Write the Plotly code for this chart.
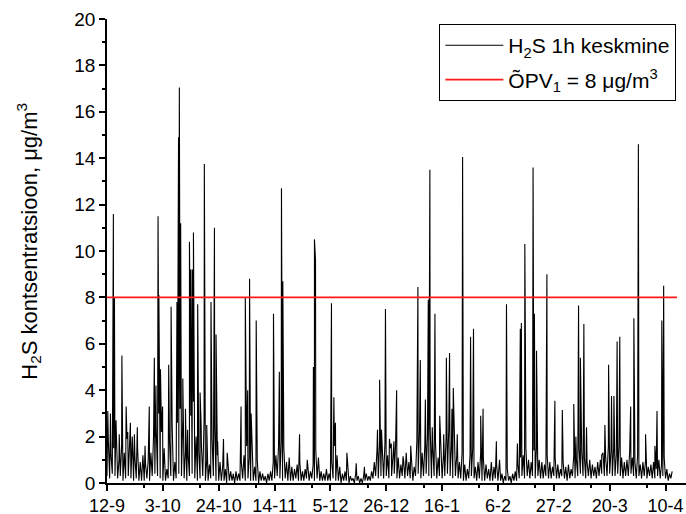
import pandas as pd
import plotly.graph_objects as go

start = pd.Timestamp("2010-09-12")

# daily baseline (low / high) of the hourly H2S series, day 0 = 12-9
base_lo = [
    0.3, 0.2, 0.4, 0.3, 0.2, 0.3, 0.1,
    0.2, 0.3, 0.2, 0.1, 0.2, 0.1, 0.1,
    0.1, 0.2, 0.1, 0.3, 0.4, 0.3, 0.2,
    0.1, 0.1, 0.2, 0.3, 0.1, 0.2, 0.4,
    0.3, 0.2, 0.1, 0.3, 0.4, 0.2, 0.1,
    0.2, 0.3, 0.1, 0.1, 0.2, 0.3, 0.1,
    0.1, 0.1, 0.1, 0.0, 0.1, 0.1, 0.0,
    0.1, 0.1, 0.2, 0.1, 0.2, 0.1, 0.1,
    0.1, 0.0, 0.1, 0.1, 0.0, 0.1, 0.1,
    0.2, 0.3, 0.2, 0.1, 0.2, 0.1, 0.1,
    0.1, 0.2, 0.1, 0.1, 0.1, 0.2, 0.1,
    0.2, 0.1, 0.2, 0.1, 0.1, 0.1, 0.1,
    0.1, 0.2, 0.1, 0.1, 0.0, 0.1, 0.1,
    0.0, 0.1, 0.0, 0.1, 0.0, 0.0, 0.1,
    0.1, 0.1, 0.2, 0.3, 0.2, 0.3, 0.2,
    0.3, 0.2, 0.3, 0.4, 0.2, 0.2, 0.3,
    0.2, 0.3, 0.2, 0.1, 0.3, 0.4, 0.2,
    0.3, 0.4, 0.3, 0.2, 0.3, 0.2, 0.3,
    0.2, 0.3, 0.4, 0.3, 0.2, 0.3, 0.2,
    0.2, 0.1, 0.1, 0.2, 0.3, 0.2, 0.1,
    0.2, 0.1, 0.1, 0.2, 0.1, 0.1, 0.2,
    0.1, 0.1, 0.0, 0.1, 0.1, 0.0, 0.1,
    0.1, 0.2, 0.3, 0.2, 0.3, 0.2, 0.3,
    0.2, 0.3, 0.2, 0.2, 0.3, 0.2, 0.2,
    0.3, 0.2, 0.2, 0.3, 0.2, 0.1, 0.2,
    0.3, 0.2, 0.3, 0.4, 0.3, 0.2, 0.3,
    0.2, 0.3, 0.2, 0.3, 0.4, 0.3, 0.3,
    0.4, 0.3, 0.3, 0.4, 0.3, 0.2, 0.3,
    0.3, 0.4, 0.3, 0.2, 0.3, 0.2, 0.3,
    0.2, 0.3, 0.2, 0.2, 0.3, 0.2, 0.3,
    0.2, 0.1, 0.2,
]
base_hi = [
    1.8, 1.2, 1.5, 2.2, 1.0, 1.6, 1.3,
    1.9, 1.4, 2.0, 1.1, 1.5, 0.9, 1.2,
    0.8, 1.0, 1.3, 2.0, 2.4, 3.0, 2.2,
    1.5, 0.6, 1.8, 2.5, 0.9, 2.6, 3.2,
    2.8, 1.4, 1.2, 2.9, 3.5, 2.0, 1.3,
    1.6, 2.7, 1.0, 0.8, 1.9, 2.4, 1.2,
    0.9, 0.7, 0.6, 0.8, 0.5, 0.4, 0.5,
    0.4, 0.9, 1.2, 1.6, 1.1, 1.4, 0.7,
    1.0, 0.5, 0.4, 0.3, 0.4, 0.5, 0.9,
    1.2, 1.6, 1.8, 1.5, 0.9, 1.1, 0.7,
    0.6, 0.8, 0.9, 0.5, 0.6, 0.7, 0.5,
    0.8, 1.4, 1.1, 0.5, 0.4, 0.6, 0.4,
    0.9, 1.6, 1.2, 0.7, 0.4, 0.5, 0.6,
    0.3, 0.2, 0.4, 0.3, 0.2, 0.3, 0.4,
    0.3, 0.5, 0.9, 1.4, 1.8, 1.3, 1.7,
    1.2, 1.5, 1.0, 1.6, 1.1, 0.8, 1.0,
    1.2, 0.9, 1.0, 0.7, 1.8, 2.2, 1.3,
    1.6, 2.0, 2.4, 1.5, 1.8, 1.1, 1.7,
    1.2, 2.0, 2.3, 1.6, 1.9, 1.2, 0.9,
    1.3, 0.8, 0.6, 1.2, 1.5, 0.7, 0.9,
    1.3, 1.1, 0.8, 0.6, 0.9, 0.7, 0.8,
    0.7, 0.4, 0.3, 0.6, 0.3, 0.4, 0.5,
    0.8, 1.1, 1.2, 1.5, 1.0, 0.9, 1.4,
    1.6, 1.0, 0.9, 0.8, 1.2, 0.9, 0.7,
    1.1, 0.8, 0.6, 0.9, 0.7, 0.8, 0.6,
    1.2, 1.0, 1.5, 1.3, 1.1, 0.9, 1.0,
    0.8, 0.7, 0.9, 1.0, 1.3, 1.1, 1.6,
    1.4, 1.5, 1.2, 1.6, 1.1, 0.9, 1.0,
    1.3, 1.1, 0.9, 1.2, 0.8, 0.9, 1.0,
    0.7, 0.8, 0.9, 0.6, 1.0, 0.8, 1.1,
    0.6, 0.4, 0.5,
]

# individual hourly peaks: time (days after 12-9) and value (ug/m3)
spike_days = [
    0.3, 1.3, 2.4, 2.8, 3.4, 4.6, 5.6, 7.2, 7.8, 8.8,
    10.3, 11.4, 14.3, 15.9, 17.8, 18.4, 19.2, 19.5, 20.1, 20.9,
    23.2, 24.1, 26.3, 26.9, 27.2, 27.7, 28.5, 29.5, 30.3, 31.0,
    31.5, 32.1, 32.5, 34.1, 35.0, 35.4, 36.6, 37.5, 39.1, 40.4,
    41.0, 41.6, 43.8, 45.2, 50.4, 52.0, 52.9, 53.6, 54.2, 56.1,
    62.6, 64.8, 65.6, 66.1, 68.3, 72.4, 75.3, 77.6, 78.0, 78.4,
    84.4, 85.3, 85.9, 86.6, 90.2, 93.7, 96.8, 101.7, 102.5, 103.2,
    104.7, 106.2, 106.9, 107.9, 108.9, 111.3, 112.5, 114.2, 116.9, 117.8,
    119.7, 120.8, 121.4, 122.3, 123.3, 125.1, 126.6, 127.6, 128.8, 129.7,
    130.2, 131.7, 133.7, 136.7, 137.8, 140.5, 141.4, 146.4, 147.6, 150.2,
    154.3, 155.4, 155.8, 157.1, 157.3, 160.2, 160.7, 161.5, 165.4, 168.4,
    171.2, 175.5, 176.3, 177.3, 178.0, 179.3, 180.3, 186.0, 187.2, 188.6,
    189.7, 190.6, 191.8, 192.8, 196.9, 198.1, 199.8, 202.5, 206.0, 206.8,
    208.6, 209.3,
]
spike_vals = [
    3.1, 3.0, 11.6, 8.0, 2.7, 2.1, 5.5, 3.3, 2.2, 2.6,
    2.1, 2.4, 1.6, 3.3, 5.4, 4.2, 11.5, 8.1, 4.9, 3.3,
    5.1, 7.6, 7.8, 14.9, 17.05, 11.2, 4.5, 3.2, 2.3, 10.4,
    9.2, 9.2, 10.8, 7.7, 3.9, 2.5, 13.75, 2.5, 7.8, 11.0,
    6.4, 1.8, 1.9, 1.3, 3.3, 8.0, 4.0, 8.8, 3.0, 7.0,
    7.3, 4.8, 12.7, 8.7, 1.1, 2.1, 1.0, 5.0, 10.5, 9.6,
    7.75, 3.7, 2.6, 1.0, 1.3, 0.85, 0.7, 2.3, 4.45, 2.3,
    7.5, 1.9, 1.7, 1.8, 4.0, 1.15, 1.3, 1.6, 8.45, 5.3,
    3.6, 7.9, 13.5, 2.4, 7.3, 2.9, 2.1, 5.4, 5.6, 3.2,
    4.1, 2.1, 14.05, 6.3, 6.65, 2.9, 3.2, 1.8, 1.0, 7.7,
    1.7, 6.65, 6.9, 10.3, 6.2, 13.6, 7.3, 5.7, 9.0, 3.55,
    3.15, 3.4, 2.0, 7.65, 5.4, 6.85, 2.4, 1.2, 2.5, 5.1,
    3.75, 3.75, 6.1, 6.3, 3.3, 7.1, 14.6, 2.1, 1.6, 3.1,
    7.0, 8.5,
]

limit_value = 8
limit_days = [0, 214.3]

tick_days = [0, 21, 42, 63, 84, 105, 126, 147, 168, 189, 210]
tick_labels = ["12-9", "3-10", "24-10", "14-11", "5-12", "26-12",
               "16-1", "6-2", "27-2", "20-3", "10-4"]

# assemble the hourly-looking series
pts = []
for d, (lo, hi) in enumerate(zip(base_lo, base_hi)):
    pts.append((d + 0.0, lo))
    pts.append((d + 0.5, hi))
for d, v in zip(spike_days, spike_vals):
    pts.append((d, v))
pts.sort()
xs = [start + pd.Timedelta(days=d) for d, _ in pts]
ys = [v for _, v in pts]

fig = go.Figure()
fig.add_trace(go.Scatter(
    x=xs, y=ys, mode="lines",
    line=dict(color="black", width=1.1),
    name="H<sub>2</sub>S 1h keskmine", legendgroup="a",
))
fig.add_trace(go.Scatter(
    x=[start + pd.Timedelta(days=d) for d in limit_days],
    y=[limit_value, limit_value], mode="lines",
    line=dict(color="#ff1a1a", width=1.7),
    name="ÕPV<sub>1</sub> = 8 μg/m<sup>3</sup>", legendgroup="b",
))

font_family = "Liberation Sans, Arial, sans-serif"
fig.update_layout(
    width=686, height=514,
    margin=dict(l=107, r=0, t=19, b=31, autoexpand=False),
    paper_bgcolor="white", plot_bgcolor="white",
    font=dict(family=font_family, size=19, color="black"),
    showlegend=True,
    legend=dict(
        x=0.574, y=0.989, xanchor="left", yanchor="top",
        bordercolor="black", borderwidth=1, bgcolor="white",
        font=dict(family=font_family, size=21, color="black"),
        tracegroupgap=4, itemwidth=58,
    ),
    xaxis=dict(
        type="date", automargin=False,
        range=[start, start + pd.Timedelta(days=217.7)],
        tickvals=[start + pd.Timedelta(days=d) for d in tick_days],
        ticktext=tick_labels,
        ticks="outside", ticklen=6, tickwidth=1.5, tickcolor="black",
        showline=True, linecolor="black", linewidth=1.5,
        showgrid=False, zeroline=False,
        tickfont=dict(size=18),
        minor=dict(
            tickvals=[start + pd.Timedelta(days=d + 14) for d in tick_days],
            ticks="outside", ticklen=3, tickwidth=1.5, tickcolor="black",
            showgrid=False,
        ),
    ),
    yaxis=dict(
        automargin=False,
        range=[0, 20], dtick=2, tick0=0,
        ticks="outside", ticklen=6, tickwidth=1.5, tickcolor="black",
        showline=True, linecolor="black", linewidth=1.5,
        showgrid=False, zeroline=False,
        tickfont=dict(size=19),
        minor=dict(dtick=1, ticks="outside", ticklen=3, tickwidth=1.5,
                   tickcolor="black", showgrid=False),
    ),
    annotations=[dict(
        text="H<sub>2</sub>S kontsentratsioon, μg/m<sup>3</sup>",
        xref="paper", yref="paper", x=(29 - 107) / 579, y=0.52,
        xanchor="center", yanchor="middle", textangle=-90,
        showarrow=False, font=dict(family=font_family, size=22, color="black"),
    )],
)

fig.write_html("out.html")
